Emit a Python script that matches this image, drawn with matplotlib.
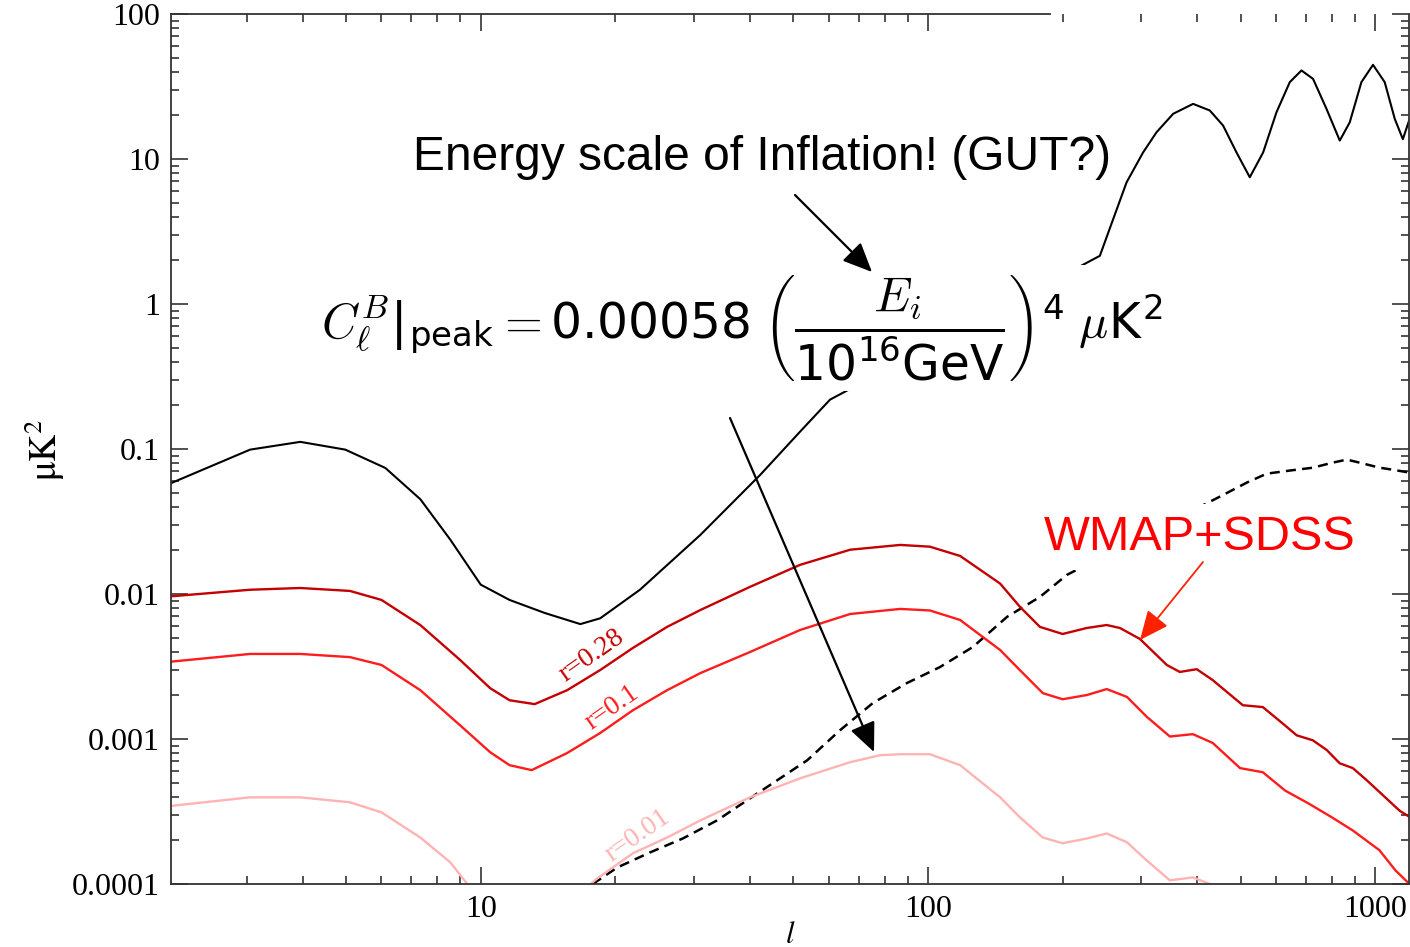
import numpy as np
import matplotlib
matplotlib.use("Agg")
import matplotlib.pyplot as plt
from matplotlib.ticker import LogLocator, FixedLocator, NullFormatter

# ---------------- data ----------------
# black solid curve
l_ee = [2, 3.05, 3.95, 4.98, 6.12, 7.33, 8.55, 10.0, 11.6, 13.9, 16.7, 18.5, 22.7, 31.0, 42.2,
        51.8, 60.4, 242.3, 259.5, 278.0, 302.7, 324.4, 353.4, 391.6, 426.8, 457.0, 489.6, 524.3,
        561.6, 601.5, 644.2, 684.1, 726.1, 778.0, 833.2, 877.1, 931.4, 988.7, 1050, 1106, 1153, 1194]
c_ee = [0.057, 0.099, 0.112, 0.099, 0.074, 0.045, 0.0237, 0.0116, 0.0091, 0.0074, 0.0062, 0.0068,
        0.0107, 0.0256, 0.0665, 0.132, 0.219, 2.15, 3.85, 6.90, 11.1, 15.3, 20.5, 24.0, 21.6, 17.0,
        11.1, 7.48, 11.1, 21.0, 33.9, 40.8, 35.7, 22.2, 13.4, 17.9, 33.9, 44.6, 33.9, 18.9, 13.7, 18.9]

# r = 0.28
l_r28 = [2, 3.05, 3.95, 5.1, 6.0, 7.33, 9.0, 10.5, 11.6, 13.2, 15.6, 18.5, 21.9, 26.1, 31.0, 40.0,
         51.8, 67, 86.7, 101, 118, 145, 160.6, 178, 200, 226.6, 251, 268.6, 297.7, 342, 365.7, 399,
         433, 505.8, 560.6, 621, 667.6, 725, 779, 833, 891, 957, 1023, 1134, 1194]
c_r28 = [0.0096, 0.0107, 0.011, 0.0105, 0.0091, 0.0061, 0.0035, 0.00224, 0.00185, 0.00174, 0.00217,
         0.00299, 0.00425, 0.00593, 0.00776, 0.0112, 0.0159, 0.0202, 0.0218, 0.0212, 0.0183, 0.0118,
         0.00815, 0.00593, 0.0053, 0.00583, 0.00611, 0.00583, 0.0049, 0.00324, 0.0029, 0.00303,
         0.00255, 0.00171, 0.00166, 0.00128, 0.00106, 0.00098, 0.00084, 0.00068, 0.00063, 0.00052,
         0.00043, 0.00032, 0.00029]

# r = 0.1
l_r10 = [2, 3.05, 3.95, 5.1, 6.0, 7.33, 9.0, 10.5, 11.6, 13.0, 15.6, 18.5, 21.9, 26.1, 31.0, 40.0,
         51.8, 67, 86.7, 101, 118, 145, 160.6, 180.7, 200, 226.6, 251, 278.6, 308.7, 347.5, 391, 433,
         498.6, 560.6, 629.5, 708.6, 797.4, 891, 1022, 1110, 1193]
c_r10 = [0.0034, 0.00386, 0.00386, 0.00367, 0.00324, 0.00217, 0.00124, 0.00081, 0.00066, 0.00061,
         0.0008, 0.0011, 0.00158, 0.00217, 0.00285, 0.00398, 0.00565, 0.00728, 0.00789, 0.0077,
         0.00662, 0.00411, 0.00298, 0.00207, 0.00188, 0.00201, 0.00221, 0.00195, 0.00142, 0.00104,
         0.00108, 0.00094, 0.00063, 0.00059, 0.00044, 0.00036, 0.00029, 0.000234, 0.000171,
         0.000124, 0.0001]

# r = 0.01
l_r01 = [2, 3.05, 3.95, 5.1, 6.0, 7.33, 8.55, 9.33, 13, 17.6, 18.2, 21.9, 26.1, 31.0, 40.0, 51.8,
         67, 78.2, 86.7, 101, 118, 145, 160.6, 180.7, 200, 226.6, 251, 278.6, 308.7, 347.5, 391, 427]
c_r01 = [0.000344, 0.000396, 0.000396, 0.000366, 0.000312, 0.000209, 0.000141, 0.0001, np.nan,
         0.0001, 0.000109, 0.000163, 0.000209, 0.000275, 0.000396, 0.000536, 0.000692, 0.000773,
         0.000785, 0.000785, 0.00066, 0.000396, 0.000288, 0.000209, 0.000191, 0.000206, 0.000223,
         0.000194, 0.000145, 0.000106, 0.000111, 0.0001]

# black dashed curve
l_lens = [17.8, 20.2, 23.9, 28.3, 33.8, 39.4, 45.0, 53.7, 63.6, 75.3, 89.7, 106.3, 126, 150.2, 178,
          204.5, 454, 516, 572, 644, 725, 803, 864, 923, 1023, 1094, 1194]
c_lens = [0.0001, 0.00013, 0.000165, 0.000206, 0.000275, 0.000378, 0.000496, 0.000713, 0.00115,
          0.00177, 0.00243, 0.00313, 0.00431, 0.00695, 0.00955, 0.01355, 0.0477, 0.0586, 0.0676,
          0.071, 0.0743, 0.0805, 0.0845, 0.0805, 0.0743, 0.072, 0.0687]

y_ticks = [1e-4, 1e-3, 1e-2, 1e-1, 1, 10, 100]
y_ticklabels = ["0.0001", "0.001", "0.01", "0.1", "1", "10", "100"]
x_ticks = [10, 100, 1000]
x_ticklabels = ["10", "100", "1000"]

# ---------------- figure ----------------
plt.rcParams["mathtext.fontset"] = "custom"
plt.rcParams["mathtext.rm"] = "cmr10"
plt.rcParams["mathtext.it"] = "cmmi10"
plt.rcParams["mathtext.sf"] = "DejaVu Sans"
plt.rcParams["mathtext.fallback"] = "cm"
plt.rcParams["axes.formatter.use_mathtext"] = False

W, H = 1410, 947
fig = plt.figure(figsize=(W / 100, H / 100), dpi=100)
ax_l, ax_r, ax_t, ax_b = 171, 1409, 14, 884
ax = fig.add_axes([ax_l / W, 1 - ax_b / H, (ax_r - ax_l) / W, (ax_b - ax_t) / H])

ax.set_xscale("log")
ax.set_yscale("log")
ax.set_xlim(2.03, 1190)
ax.set_ylim(1e-4, 100)

c_dark = "#c40000"
c_mid = "#ff1c1c"
c_pink = "#ffb3b3"

ax.plot(l_ee, c_ee, color="black", lw=1.5, zorder=2)
ax.plot(l_lens, c_lens, color="black", lw=1.8, ls=(0, (4, 2.5)), zorder=2)
ax.plot(l_r28, c_r28, color=c_dark, lw=1.7, zorder=2)
ax.plot(l_r10, c_r10, color=c_mid, lw=1.7, zorder=2)
ax.plot(l_r01, c_r01, color=c_pink, lw=1.7, zorder=2)

# ticks
ax.yaxis.set_major_locator(FixedLocator(y_ticks))
ax.set_yticklabels(y_ticklabels)
ax.yaxis.set_minor_locator(LogLocator(base=10, subs=np.arange(2, 10), numticks=20))
ax.yaxis.set_minor_formatter(NullFormatter())
ax.xaxis.set_major_locator(FixedLocator(x_ticks))
ax.set_xticklabels(x_ticklabels)
ax.xaxis.set_minor_locator(LogLocator(base=10, subs=np.arange(2, 10), numticks=20))
ax.xaxis.set_minor_formatter(NullFormatter())
ax.tick_params(which="both", direction="in", top=True, right=True, color="#333333", width=1.2)
ax.tick_params(which="major", length=12, labelsize=23, pad=8)
ax.tick_params(which="minor", length=6)
for lab in ax.get_xticklabels() + ax.get_yticklabels():
    lab.set_fontfamily("Liberation Serif")
for s in ax.spines.values():
    s.set_color("#333333")
    s.set_linewidth(1.3)
ax.spines["top"].set_bounds(2.03, 187)

def fx(px):
    return (px - ax_l) / (ax_r - ax_l)

def fy(py):
    return (ax_b - py) / (ax_b - ax_t)

# axis labels
ax.text(fx(45), fy(450), r"$\mathrm{\mu K}^{2}$", rotation=90, ha="center", va="center",
        fontsize=27, math_fontfamily="stix", transform=ax.transAxes)
ax.text(fx(790), fy(934), r"$l$", ha="center", va="center", fontsize=22,
        math_fontfamily="stix", transform=ax.transAxes)

# r labels
ax.text(fx(592), fy(656), "r=0.28", rotation=35, color=c_dark, fontsize=20,
        fontfamily="Liberation Serif", ha="center", va="center", transform=ax.transAxes, zorder=3)
ax.text(fx(612), fy(708), "r=0.1", rotation=35, color=c_mid, fontsize=20,
        fontfamily="Liberation Serif", ha="center", va="center", transform=ax.transAxes, zorder=3)
ax.text(fx(638), fy(836), "r=0.01", rotation=35, color=c_pink, fontsize=20,
        fontfamily="Liberation Serif", ha="center", va="center", transform=ax.transAxes, zorder=3)

# annotations
ax.text(fx(762), fy(157), "Energy scale of Inflation! (GUT?)", fontsize=34.5,
        fontfamily="Liberation Sans", ha="center", va="center", transform=ax.transAxes, zorder=5)

formula = (r"$C_\ell^B\mathsf{|}_{\mathsf{peak}} = \mathsf{0.00058}\;"
           r"\left(\dfrac{E_i}{\mathsf{10^{16}GeV}}\right)^{\mathsf{4}}\;\mu\mathsf{K}^{\mathsf{2}}$")
ax.text(fx(742), fy(328), formula, fontsize=35, math_fontfamily="custom", ha="center", va="center",
        transform=ax.transAxes, zorder=5,
        bbox=dict(boxstyle="square,pad=0.16", fc="white", ec="none"))

ax.text(fx(1200), fy(537), "WMAP+SDSS", fontsize=35, color="#ff0000",
        fontfamily="Liberation Sans", ha="center", va="center", transform=ax.transAxes, zorder=5,
        bbox=dict(boxstyle="square,pad=0.22", fc="white", ec="none"))

arrow_k = dict(arrowstyle="-|>,head_length=0.9,head_width=0.4", mutation_scale=20,
               color="black", lw=1.6, shrinkA=0, shrinkB=0)
ax.annotate("", xy=(fx(872), fy(272)), xytext=(fx(795), fy(195)), xycoords="axes fraction",
            textcoords="axes fraction", arrowprops=arrow_k, zorder=6)
ax.annotate("", xy=(fx(874), fy(752)), xytext=(fx(730), fy(418)), xycoords="axes fraction",
            textcoords="axes fraction", arrowprops=arrow_k, zorder=6)
arrow_r = dict(arrowstyle="-|>,head_length=0.9,head_width=0.4", mutation_scale=20,
               color="#ff2200", lw=1.3, shrinkA=0, shrinkB=0)
ax.annotate("", xy=(fx(1140), fy(640)), xytext=(fx(1203), fy(562)), xycoords="axes fraction",
            textcoords="axes fraction", arrowprops=arrow_r, zorder=6)

fig.savefig("out.png", dpi=100)
